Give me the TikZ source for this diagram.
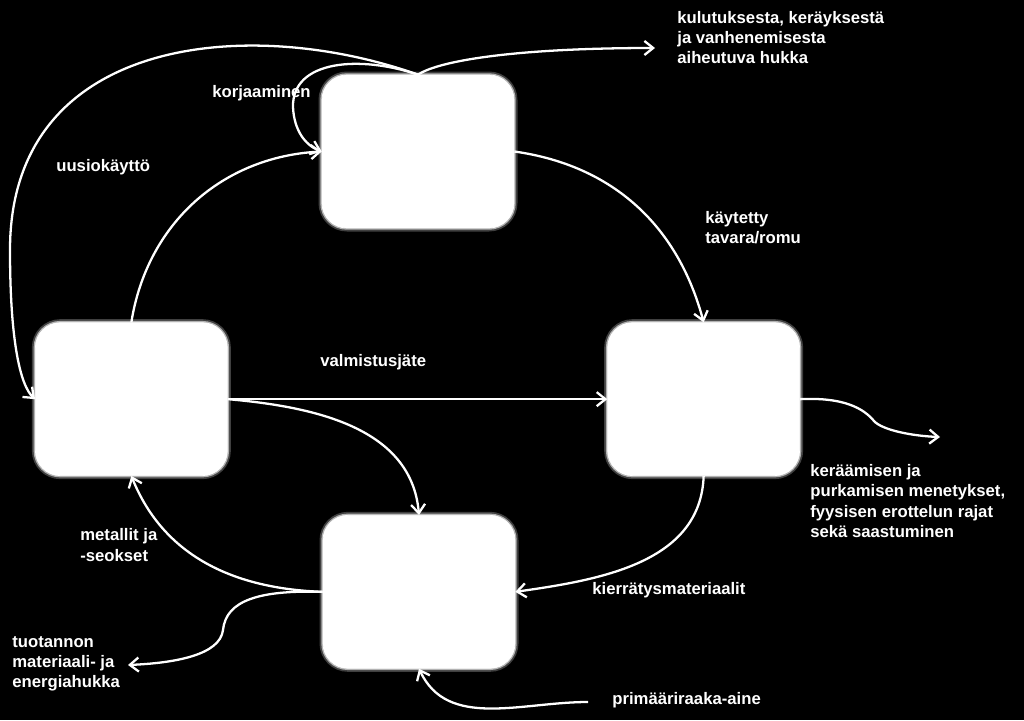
\documentclass[tikz,border=0pt]{standalone}
\usepackage{fontspec}
\setmainfont{Liberation Sans}
\usetikzlibrary{arrows.meta, positioning}

\begin{document}
\begin{tikzpicture}[
    x=0.02cm, y=0.02cm,
    box/.style={rectangle, rounded corners=0.5cm, minimum width=3.84cm, minimum height=3.06cm, fill=white, draw=white, preaction={draw=white!25!black, line width=4pt}, preaction={draw=white!70!black, line width=2pt}},
    lbl/.style={text=white, font=\bfseries\fontsize{9.5}{11.5}\selectfont, align=left, anchor=west, inner sep=0pt},
    arrow/.style={draw=white, line width=1.3pt, -{Straight Barb[length=5pt,width=8pt]}}
]
\fill [black] (0,0) rectangle (1024,-720);
\useasboundingbox (0,0) rectangle (1024,-720);

\node (use) [box] at (418,-151.5) {};
\node (make) [box, below left=1.88cm and 1.88cm of use] {};
\node (coll) [box, below right=1.88cm and 1.86cm of use] {};
\node (refine) [box, below right=0.78cm and 1.9cm of make] {};

\coordinate (useLoss) at (655,-48);
\coordinate (collLoss) at (940,-437);
\coordinate (makeLoss) at (128,-665);
\coordinate (rawIn) at (588,-702);

\node (useLossTxt) [lbl] at (677,-37.5) {kulutuksesta, keräyksestä\\ja vanhenemisesta\\aiheutuva hukka};
\node (repairTxt) [lbl] at (212,-93) {korjaaminen};
\node (reuseTxt) [lbl] at (56,-167) {uusiokäyttö};
\node (usedTxt) [lbl] at (705,-228) {käytetty\\tavara/romu};
\node (scrapTxt) [lbl] at (320,-362) {valmistusjäte};
\node (collLossTxt) [lbl] at (810,-501) {keräämisen ja\\purkamisen menetykset,\\fyysisen erottelun rajat\\sekä saastuminen};
\node (metalTxt) [lbl] at (80,-545) {metallit ja\\-seokset};
\node (recycTxt) [lbl] at (592,-590) {kierrätysmateriaalit};
\node (makeLossTxt) [lbl] at (12,-664) {tuotannon\\materiaali- ja\\energiahukka};
\node (rawTxt) [lbl] at (612,-700) {primääriraaka-aine};

% use phase
\draw [arrow] (use.north) .. controls (440,-60) and (520,-48) .. (useLoss);
\draw [arrow] (use.north) .. controls (250,-15) and (10,-35) .. (10,-250) .. controls (10,-340) and (20,-385) .. (make.west);
\draw [arrow] (use.north) .. controls (360,-55) and (292,-60) .. (293,-107) .. controls (294,-130) and (305,-145) .. (use.west);
\draw [arrow] (use.east) to[out=-8,in=105] (coll.north);
% production
\draw [arrow] (make.north) to[out=81,in=183] (use.west);
\draw [arrow] (make.east) -- (coll.west);
\draw [arrow] (make.east) to[out=-5,in=95] (refine.north);
% collection
\draw [arrow] (coll.south) to[out=-92,in=8] (refine.east);
\draw [arrow] (coll.east) .. controls (845,-397) and (864,-409) .. (874,-421) .. controls (882,-430) and (912,-436) .. (collLoss);
% refining
\draw [arrow] (refine.west) to[out=178,in=-68] (make.south);
\draw [arrow] (refine.west) .. controls (260,-590) and (226,-600) .. (223,-630) .. controls (220,-655) and (175,-663) .. (makeLoss);
\draw [arrow] (rawIn) to[out=180,in=-65] (refine.south);
\end{tikzpicture}
\end{document}
